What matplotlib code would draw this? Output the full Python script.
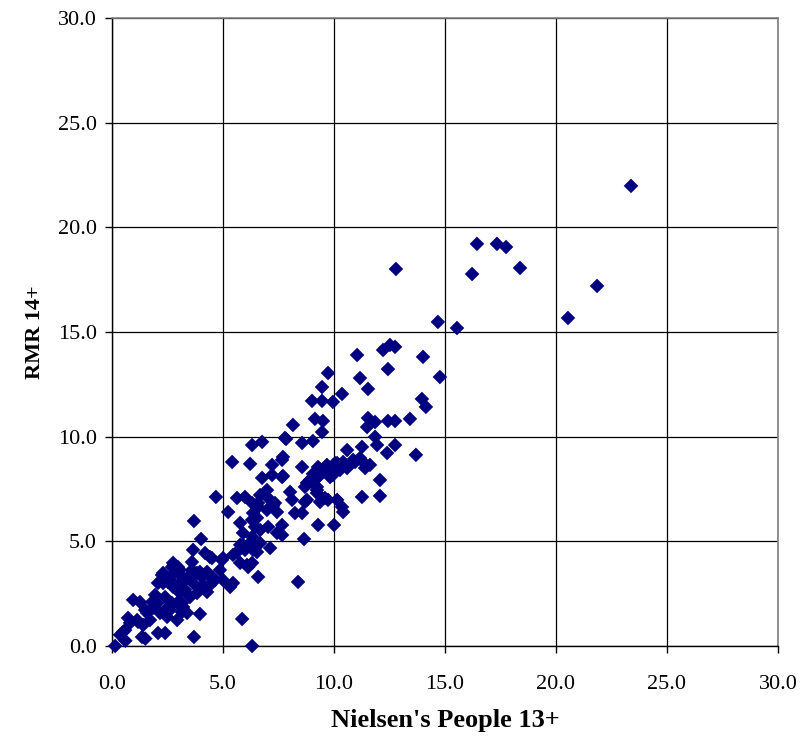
import matplotlib
matplotlib.use("Agg")
import matplotlib.pyplot as plt
from matplotlib.ticker import FormatStrFormatter

# audience estimates (Nielsen People 13+ vs RMR 14+)
nielsen = [
    23.38, 16.44, 17.34, 17.75, 18.38, 16.22, 12.79, 21.85, 20.54, 14.68,
    15.54, 14.77, 12.21, 12.52, 12.75, 11.04, 14.01, 12.43, 11.17, 11.53,
    9.73, 9.46, 10.36, 9.01, 9.46, 9.95, 13.96, 14.14, 8.15, 9.14,
    9.50, 9.46, 11.53, 11.49, 11.85, 12.43, 12.75, 13.42, 7.79, 8.56,
    9.05, 10.59, 11.26, 11.85, 11.94, 12.39, 12.75, 13.69, 7.70, 8.56,
    7.70, 9.28, 9.50, 10.14, 10.59, 10.95, 11.31, 11.62, 11.40, 8.78,
    9.37, 9.73, 12.07, 8.02, 8.11, 8.69, 9.23, 9.37, 9.73, 10.14,
    10.36, 10.41, 11.26, 12.07, 8.24, 8.56, 6.31, 6.76, 7.84, 5.41,
    6.22, 7.21, 7.66, 6.76, 7.21, 7.66, 9.05, 10.05, 4.68, 5.63,
    5.99, 6.31, 6.98, 7.03, 7.25, 5.23, 5.77, 6.31, 6.44, 7.03,
    7.66, 9.28, 10.00, 3.69, 4.01, 5.90, 6.31, 7.12, 8.65, 6.44,
    5.99, 3.65, 4.19, 4.50, 5.00, 5.45, 6.67, 6.58, 6.98, 7.34,
    6.67, 7.43, 6.13, 6.67, 5.77, 5.63, 4.95, 4.86, 5.77, 6.13,
    6.58, 2.75, 3.06, 3.60, 3.96, 4.32, 4.64, 2.30, 2.61, 3.20,
    3.65, 4.10, 5.00, 8.38, 6.31, 5.45, 5.32, 5.86, 6.31, 3.69,
    3.96, 0.14, 0.95, 1.26, 0.36, 0.59, 0.81, 0.72, 1.13, 1.40,
    1.71, 1.58, 1.85, 2.03, 1.80, 2.16, 2.48, 2.39, 2.93, 2.61,
    2.93, 3.20, 3.06, 2.75, 3.29, 3.51, 3.83, 4.28, 4.41, 4.55,
    4.10, 3.83, 3.60, 3.38, 3.06, 2.70, 2.97, 2.30, 2.52, 4.28,
    4.41, 6.08, 5.90, 6.35, 1.35, 2.07, 3.15, 3.38, 2.39, 2.07,
    2.25, 3.15, 2.70, 4.05, 4.05, 3.65, 3.15, 2.70, 2.39, 1.94,
    2.52, 1.17, 0.50, 1.49, 7.66, 6.53, 0.60, 1.50, 9.23, 8.69,
    9.82, 9.68, 6.58, 7.43, 6.35, 6.53, 10.41, 10.86, 11.17, 10.27,
    9.95, 9.28, 8.92, 9.23, 8.78, 9.59,
]
rmr = [
    21.98, 19.21, 19.21, 19.06, 18.06, 17.77, 18.01, 17.20, 15.67, 15.48,
    15.19, 12.85, 14.14, 14.38, 14.29, 13.90, 13.81, 13.23, 12.80, 12.28,
    13.04, 12.37, 12.04, 11.71, 11.71, 11.66, 11.80, 11.42, 10.56, 10.85,
    10.75, 10.22, 10.89, 10.46, 10.70, 10.75, 10.75, 10.85, 9.94, 9.70,
    9.79, 9.36, 9.51, 9.99, 9.60, 9.22, 9.60, 9.13, 9.03, 8.55,
    8.12, 8.55, 8.31, 8.74, 8.50, 8.79, 8.79, 8.65, 8.50, 7.79,
    8.17, 8.41, 7.93, 7.36, 6.98, 6.88, 7.31, 6.88, 6.98, 6.98,
    6.64, 6.40, 7.12, 7.17, 6.35, 6.35, 9.60, 9.75, 9.89, 8.79,
    8.70, 8.65, 8.89, 8.03, 8.17, 8.07, 8.22, 8.74, 7.12, 7.07,
    7.12, 6.83, 7.45, 7.07, 6.69, 6.40, 5.88, 6.02, 5.69, 5.69,
    5.78, 5.78, 5.78, 5.97, 5.11, 5.40, 5.21, 4.68, 5.11, 4.73,
    4.59, 4.59, 4.44, 4.20, 4.20, 4.35, 7.21, 6.64, 6.50, 6.83,
    5.54, 5.40, 4.83, 4.92, 4.83, 4.49, 4.11, 3.63, 3.97, 3.77,
    3.30, 3.97, 3.63, 4.01, 3.54, 3.39, 3.15, 3.49, 3.15, 3.15,
    3.01, 2.91, 3.15, 3.06, 3.97, 3.01, 2.82, 1.29, 0.00, 0.43,
    1.53, 0.00, 2.20, 2.10, 0.53, 0.76, 1.10, 1.34, 1.24, 1.00,
    1.24, 1.58, 1.82, 2.05, 2.10, 1.58, 1.39, 0.62, 1.24, 1.72,
    2.05, 1.86, 2.53, 2.82, 2.68, 2.34, 2.53, 2.58, 2.91, 3.25,
    3.39, 3.49, 3.63, 3.25, 3.39, 3.77, 3.77, 3.01, 3.06, 3.54,
    4.25, 3.87, 4.83, 4.59, 0.43, 0.62, 1.62, 1.58, 1.58, 3.01,
    3.39, 3.06, 3.39, 2.77, 3.30, 3.39, 2.05, 2.05, 2.34, 2.44,
    1.86, 1.15, 0.67, 1.72, 5.30, 4.49, 0.25, 0.35, 7.60, 7.60,
    8.07, 8.65, 6.83, 6.40, 6.35, 6.12, 8.79, 8.89, 8.98, 8.41,
    8.17, 8.07, 7.93, 7.45, 6.98, 7.07,
]

ticks = [0, 5, 10, 15, 20, 25, 30]

plt.rcParams['font.family'] = ['Liberation Serif', 'DejaVu Serif']

fig = plt.figure(figsize=(8.02, 7.38), dpi=100)
ax = fig.add_axes((0.1397, 0.1247, 0.8303, 0.8509))

ax.scatter(nielsen, rmr, marker='D', s=55, color='#000080',
           edgecolors='none', zorder=3, clip_on=False)

ax.set_xlim(0, 30)
ax.set_ylim(0, 30)
ax.set_xticks(ticks)
ax.set_yticks(ticks)
ax.xaxis.set_major_formatter(FormatStrFormatter('%.1f'))
ax.yaxis.set_major_formatter(FormatStrFormatter('%.1f'))
ax.grid(True, color='black', linewidth=0.9)
ax.set_axisbelow(True)

for side in ('top', 'right'):
    ax.spines[side].set_color('#808080')
    ax.spines[side].set_linewidth(1.2)
for side in ('left', 'bottom'):
    ax.spines[side].set_color('black')
    ax.spines[side].set_linewidth(1.0)

ax.tick_params(direction='out', length=5, width=1, labelsize=16)
ax.tick_params(axis='x', pad=16)
ax.tick_params(axis='y', pad=6)

ax.set_xlabel("Nielsen's People 13+", fontsize=19, fontweight='bold', labelpad=11)
ax.set_ylabel("RMR 14+", fontsize=16, fontweight='bold', labelpad=9)

fig.savefig("out.png", dpi=100)
